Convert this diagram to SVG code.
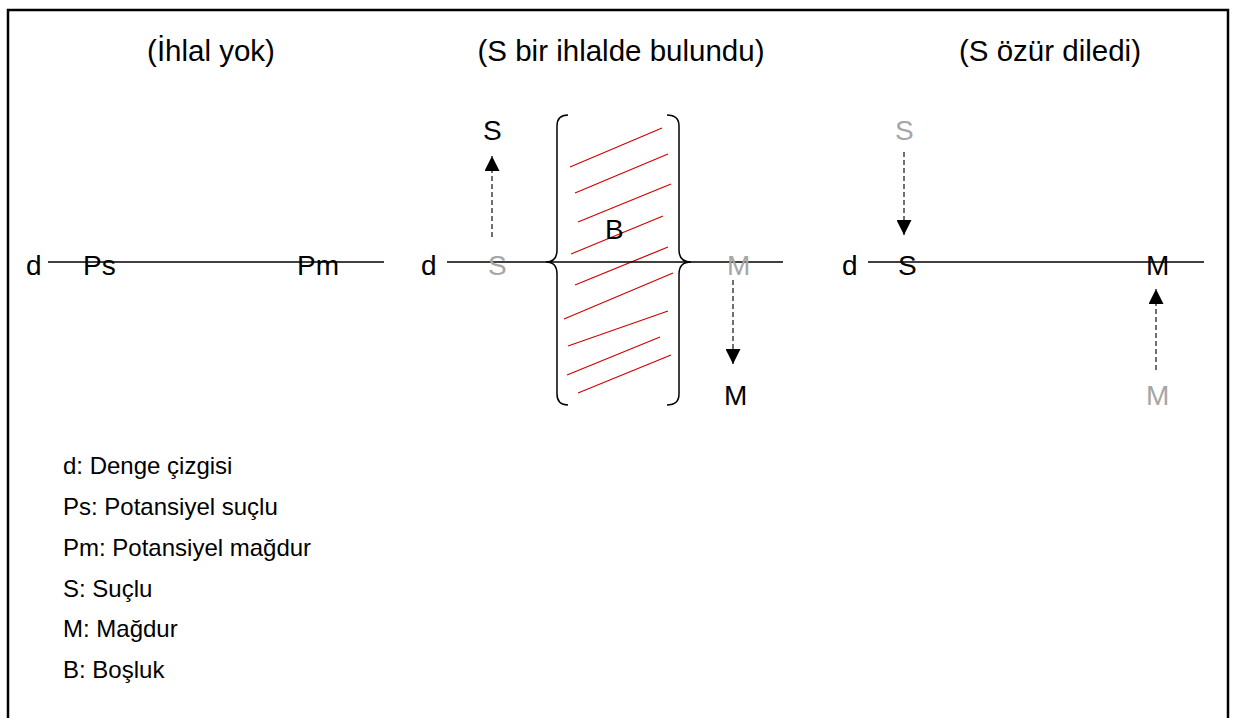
<svg xmlns="http://www.w3.org/2000/svg" width="1235" height="718" viewBox="0 0 1235 718">
<defs>
<style>
text{font-family:"Liberation Sans",Arial,sans-serif;fill:#000}
.title{font-size:29.5px;text-anchor:middle}
.lbl{font-size:28px}
.gray{fill:#a6a6a6}
.leg{font-size:24px}
.axis{stroke:#000;stroke-width:1.3;fill:none}
.dash{stroke:#333;stroke-width:1.4;stroke-dasharray:5 3;fill:none}
.brace{stroke:#000;stroke-width:1.5;fill:none}
.hatch{stroke:#d40000;stroke-width:1.2}
</style>
<marker id="ah" viewBox="0 0 10 10" refX="10" refY="5" markerWidth="15" markerHeight="15" markerUnits="userSpaceOnUse" orient="auto">
<path d="M0,0 L10,5 L0,10 Z" fill="#000"/>
</marker>
</defs>
<rect x="8" y="10" width="1220" height="730" fill="#fff" stroke="#000" stroke-width="2.5"/>

<g id="panel1">
<text class="title" x="211" y="61">(İhlal yok)</text>
<line class="axis" x1="48" y1="262" x2="384" y2="262"/>
<text class="lbl" x="26" y="275">d</text>
<text class="lbl" x="83" y="275">Ps</text>
<text class="lbl" x="297" y="275">Pm</text>
</g>

<g id="panel2">
<text class="title" x="621" y="61">(S bir ihlalde bulundu)</text>
<g id="gap">
<line class="hatch" x1="570" y1="167" x2="662" y2="128"/>
<line class="hatch" x1="575" y1="193" x2="668" y2="154"/>
<line class="hatch" x1="578" y1="222" x2="671" y2="184"/>
<line class="hatch" x1="571" y1="254" x2="663" y2="216"/>
<line class="hatch" x1="575" y1="285" x2="668" y2="247"/>
<line class="hatch" x1="564" y1="319" x2="673" y2="273"/>
<line class="hatch" x1="568" y1="346" x2="668" y2="311"/>
<line class="hatch" x1="567" y1="375" x2="660" y2="337"/>
<line class="hatch" x1="578" y1="393" x2="671" y2="355"/>
<path class="brace" d="M568,115 Q557,115 557,126 L557,250 Q557,262 546,262 Q557,262 557,274 L557,394 Q557,405 568,405"/>
<path class="brace" d="M667,115 Q679,115 679,126 L679,250 Q679,262 691,262 Q679,262 679,274 L679,394 Q679,405 667,405"/>
<text class="lbl" x="605" y="239">B</text>
</g>
<line class="axis" x1="447" y1="262" x2="783" y2="262"/>
<text class="lbl" x="421" y="275">d</text>
<text class="lbl gray" x="488" y="275">S</text>
<text class="lbl gray" x="727" y="275">M</text>
<text class="lbl" x="483" y="140">S</text>
<text class="lbl" x="724" y="405">M</text>
</g>

<g id="panel3">
<text class="title" x="1050" y="61">(S özür diledi)</text>
<line class="axis" x1="868" y1="262" x2="1204" y2="262"/>
<text class="lbl" x="842" y="275">d</text>
<text class="lbl" x="898" y="275">S</text>
<text class="lbl" x="1146" y="275">M</text>
<text class="lbl gray" x="895" y="140">S</text>
<text class="lbl gray" x="1146" y="405">M</text>
</g>

<g id="connectors">
<line class="dash" x1="492" y1="237" x2="492" y2="156" marker-end="url(#ah)"/>
<line class="dash" x1="733" y1="280" x2="733" y2="364" marker-end="url(#ah)"/>
<line class="dash" x1="904" y1="152" x2="904" y2="235" marker-end="url(#ah)"/>
<line class="dash" x1="1156" y1="370" x2="1156" y2="289" marker-end="url(#ah)"/>
</g>

<g id="legend">
<text class="leg" x="63" y="474">d: Denge çizgisi</text>
<text class="leg" x="63" y="515">Ps: Potansiyel suçlu</text>
<text class="leg" x="63" y="556">Pm: Potansiyel mağdur</text>
<text class="leg" x="63" y="597">S: Suçlu</text>
<text class="leg" x="63" y="637">M: Mağdur</text>
<text class="leg" x="63" y="678">B: Boşluk</text>
</g>
</svg>
